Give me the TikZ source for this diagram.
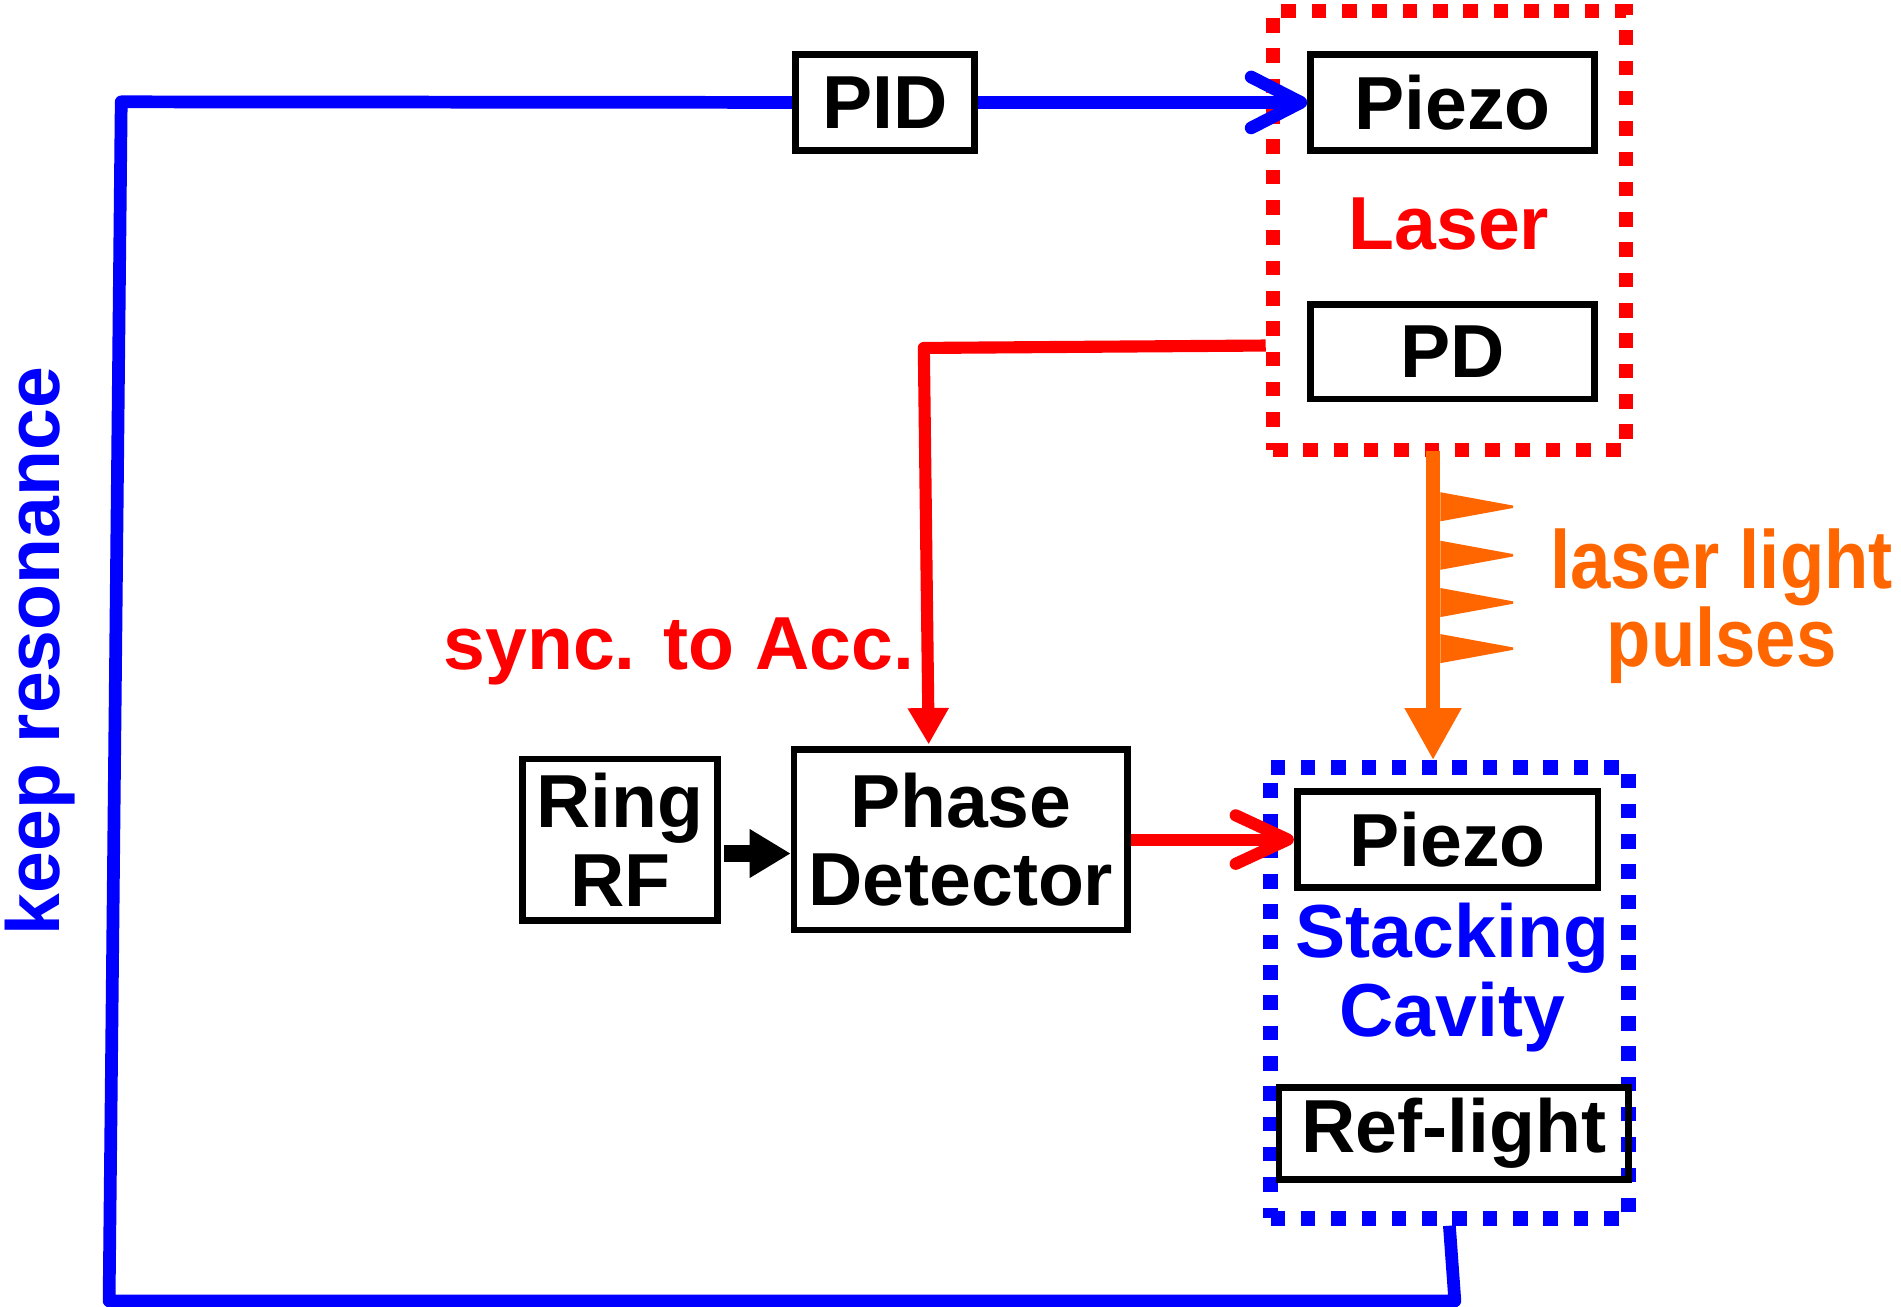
\documentclass[tikz,border=0pt]{standalone}
\usepackage{fontspec}
\setmainfont{Liberation Sans}
\usetikzlibrary{arrows.meta}
\definecolor{rred}{RGB}{255,0,0}
\definecolor{bblue}{RGB}{0,0,255}
\definecolor{oorange}{RGB}{255,102,0}
\newcommand\diafont{\fontsize{62}{65}\selectfont\bfseries}
\newcommand\pulsefont{\fontsize{68}{63}\selectfont\bfseries}
\begin{document}
\begin{tikzpicture}[x=1pt,y=-1pt,
  box/.style={draw=black, line width=5.5pt, rectangle, inner sep=0pt, align=center, font=\diafont, text=black},
  dotbox/.style={rectangle, line width=12pt, dash pattern=on 12pt off 13pt, inner sep=0pt},
  bluel/.style={draw=bblue, line width=10.5pt, line join=round},
  redl/.style={draw=rred, line width=10pt, line join=round},
  lbl/.style={font=\diafont, inner sep=0pt}]
\useasboundingbox (0,0) rectangle (1568,1078);
% dotted groups
\node[dotbox, draw=rred, minimum width=291pt, minimum height=362pt] (laserbox) at (1195.5,190) {};
\node[dotbox, draw=bblue, minimum width=295pt, minimum height=372pt] (cavbox) at (1195.5,819) {};
% boxes
\node[box, minimum width=148pt, minimum height=79pt] (PID) at (730,84.5) {PID};
\node[box, minimum width=234pt, minimum height=79pt] (LPiezo) at (1198,84.5) {Piezo};
\node[box, minimum width=234pt, minimum height=78pt] (PD) at (1198,290) {PD};
\node[box, minimum width=161pt, minimum height=133pt] (RF) at (511.5,692.5) {Ring\\RF};
\node[box, minimum width=275pt, minimum height=149pt] (PhD) at (792.5,692.5) {Phase\\Detector};
\node[box, minimum width=248pt, minimum height=79pt] (SPiezo) at (1194,692.5) {Piezo};
\node[box, minimum width=288pt, minimum height=76pt] (Ref) at (1199,935) {Ref-light};
% labels
\node[lbl, text=rred] (lasertxt) at (1195,185) {Laser};
\node[lbl, text=bblue, align=center] (cavtxt) at (1198,806) {Stacking\\Cavity};
\node[lbl, text=rred] (synctxt) at (560,537) {sync. to Acc.};
\node[lbl, text=bblue, rotate=90] (keeptxt) at (33,537) {keep resonance};
\node[font=\pulsefont, text=oorange, align=center, inner sep=0pt] (pulsetxt) at (1420,500) {\scalebox{0.88}[1]{laser light}\\\scalebox{0.88}[1]{pulses}};
% coordinates
\coordinate (b1) at (1200,1073);
\coordinate (b2) at (90,1073);
\coordinate (b3) at (100,84);
\coordinate (r0) at (1044,285);
\coordinate (r1) at (762,287);
\coordinate (r2) at (766,614);
\coordinate (k0) at (597,704);
\coordinate (o0) at (1182,372);
\coordinate (o1) at (1182,627);
% connectors
\draw[bluel] (cavbox.south) -- (b1) -- (b2) -- (b3) -- (PID.west);
\draw[bluel, -{Straight Barb[length=41pt,width=42pt,round]}] (PID.east) -- (LPiezo.west);
\draw[redl, -{Triangle[length=30pt,width=32pt]}] (r0) -- (r1) -- (r2);
\draw[redl, -{Straight Barb[length=43pt,width=40pt,round]}] (PhD.east) -- (SPiezo.west);
\draw[line width=14pt, -{Triangle[length=34pt,width=38pt]}] (k0) -- (PhD.west |- k0);
\draw[draw=oorange, line width=12pt, -{Triangle[length=43pt,width=44pt]}] (o0) -- (o1);
\foreach \y in {418,458,497,535}
  \fill[oorange] (1188,\y-12) -- (1248,\y-1) -- (1248,\y+1) -- (1188,\y+12) -- cycle;
\end{tikzpicture}
\end{document}
